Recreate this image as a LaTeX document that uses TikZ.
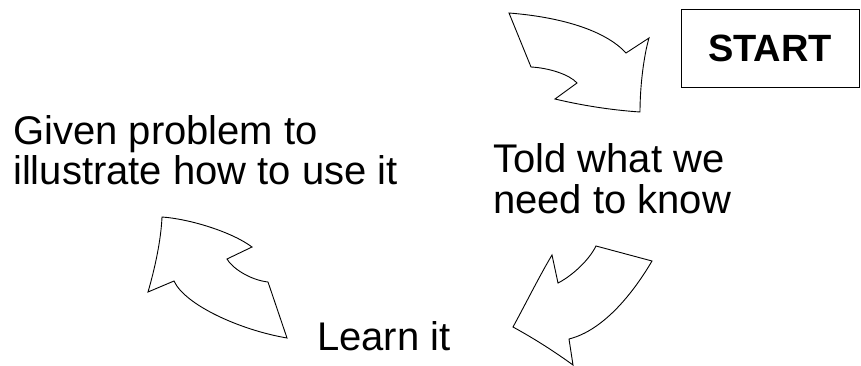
\documentclass[tikz,border=0pt]{standalone}
\usepackage{fontspec}
\setmainfont{Liberation Sans}
\usepackage{tikz}
\usetikzlibrary{positioning}

\begin{document}
\begin{tikzpicture}[
  x=1pt, y=-1pt,
  label/.style = {inner sep=0pt, align=left, font=\fontsize{40}{40}\selectfont},
  startbox/.style = {rectangle, draw, line width=0.8pt, minimum width=178pt, minimum height=78pt,
                     inner sep=0pt, font=\fontsize{38}{38}\selectfont\bfseries},
  blockarrow/.style = {draw, line width=0.9pt, line join=miter}
]
  \useasboundingbox (0,0) rectangle (861,366);

  \node[startbox] (start) at (770,48) {START};

  \node[label, anchor=base west] (given) at (13,185) {Given problem to\\illustrate how to use it};
  \node[label, anchor=base west] (told)  at (493,213) {Told what we\\need to know};
  \node[label, anchor=base west] (learn) at (317,350) {Learn it};

  % cycle arrows
  \draw[blockarrow] (509,13) .. controls (560,17) and (605,30) .. (626,53) -- (649,38)
    .. controls (644,55) and (640,85) .. (640,112) .. controls (610,110) and (580,105) .. (555,99)
    -- (577,83) .. controls (570,75) and (550,68) .. (531,67) -- cycle;
  \draw[blockarrow] (596,246) -- (652,261) .. controls (635,290) and (605,330) .. (569,339)
    -- (573,365) .. controls (555,352) and (535,339) .. (513,327)
    .. controls (525,305) and (540,275) .. (552,255) -- (558,283)
    .. controls (570,277) and (588,262) .. (596,246) -- cycle;
  \draw[blockarrow] (162,217) .. controls (190,219) and (232,232) .. (252,247) -- (227,259)
    .. controls (232,268) and (250,280) .. (268,282) -- (287,338)
    .. controls (240,330) and (185,305) .. (174,281) -- (148,292)
    .. controls (155,268) and (161,240) .. (162,217) -- cycle;
\end{tikzpicture}
\end{document}
